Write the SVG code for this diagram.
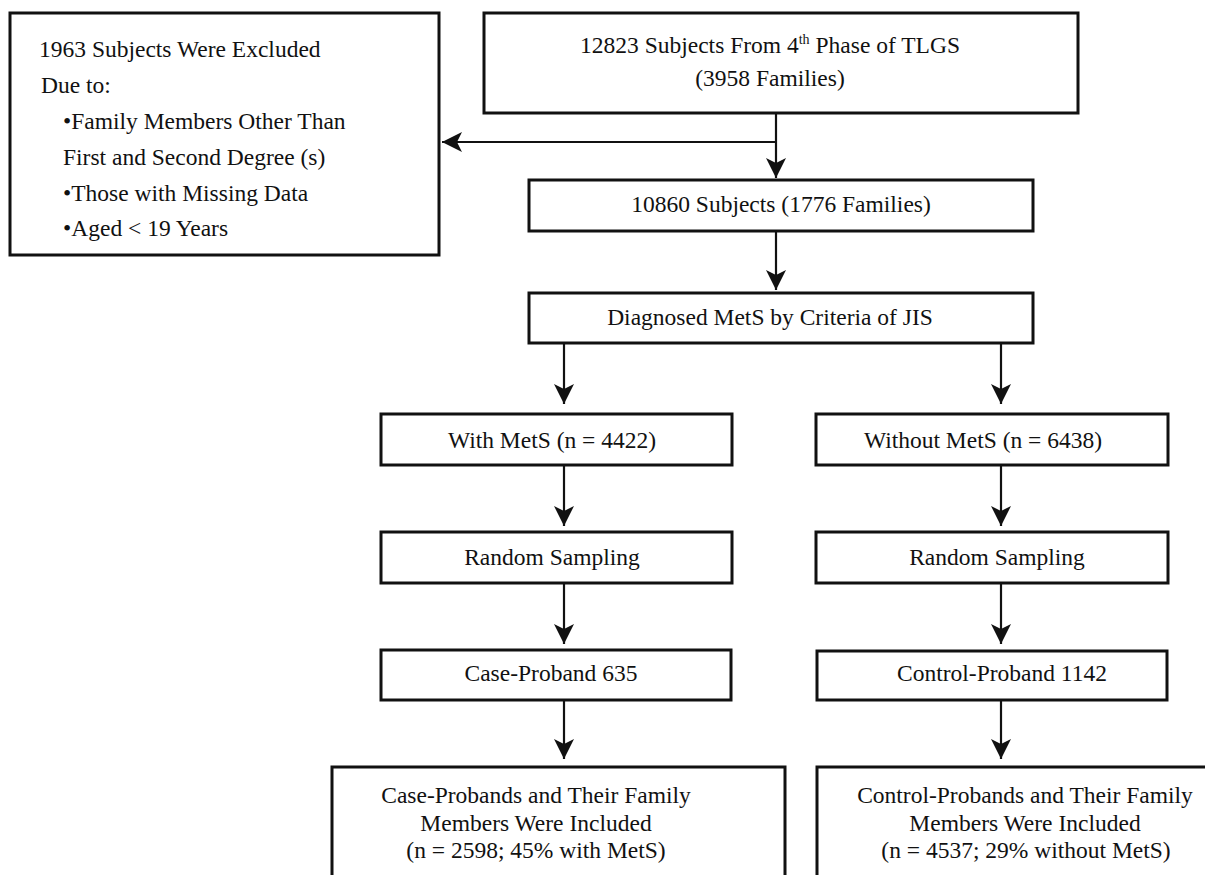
<svg xmlns="http://www.w3.org/2000/svg" width="1205" height="875" viewBox="0 0 1205 875">
<style>
.box{fill:#fff;stroke:#111;stroke-width:3}
.t{font-family:"Liberation Serif","Times New Roman",serif;font-size:23.5px;fill:#111}
.m{text-anchor:middle}
.c{fill:none;stroke:#111;stroke-width:2.2}
</style>
<defs>
<marker id="ah" markerUnits="userSpaceOnUse" markerWidth="24" markerHeight="24" viewBox="-22 -12 24 24" refX="0" refY="0" orient="auto">
<path d="M0,0 L-20,-10 L-15,0 L-20,10 Z" fill="#111"/>
</marker>
</defs>
<g id="connectors">
<path class="c" d="M776,113 V178" marker-end="url(#ah)"/>
<path class="c" d="M776,142 H442" marker-end="url(#ah)"/>
<path class="c" d="M776,231 V290" marker-end="url(#ah)"/>
<path class="c" d="M564,343 V404" marker-end="url(#ah)"/>
<path class="c" d="M1001,343 V404" marker-end="url(#ah)"/>
<path class="c" d="M564,465 V526" marker-end="url(#ah)"/>
<path class="c" d="M1001,465 V526" marker-end="url(#ah)"/>
<path class="c" d="M564,583 V644" marker-end="url(#ah)"/>
<path class="c" d="M1001,583 V644" marker-end="url(#ah)"/>
<path class="c" d="M564,700 V759" marker-end="url(#ah)"/>
<path class="c" d="M1001,700 V759" marker-end="url(#ah)"/>
</g>
<g id="excluded">
<rect class="box" x="10" y="13" width="429" height="242"/>
<text class="t" x="39" y="57">1963 Subjects Were Excluded</text>
<text class="t" x="41" y="93">Due to:</text>
<text class="t" x="63" y="129">•Family Members Other Than</text>
<text class="t" x="63" y="165">First and Second Degree (s)</text>
<text class="t" x="63" y="201">•Those with Missing Data</text>
<text class="t" x="63" y="236">•Aged &lt; 19 Years</text>
</g>
<g id="start">
<rect class="box" x="484" y="13" width="594" height="100"/>
<text class="t m" x="770" y="53">12823 Subjects From 4<tspan font-size="14" dy="-9">th</tspan><tspan dy="9"> Phase of TLGS</tspan></text>
<text class="t m" x="770" y="86">(3958 Families)</text>
</g>
<g id="subjects">
<rect class="box" x="529" y="180" width="504" height="51"/>
<text class="t m" x="781" y="212">10860 Subjects (1776 Families)</text>
</g>
<g id="diagnosed">
<rect class="box" x="529" y="293" width="504" height="50"/>
<text class="t m" x="770" y="325">Diagnosed MetS by Criteria of JIS</text>
</g>
<g id="with-mets">
<rect class="box" x="381" y="414" width="351" height="51"/>
<text class="t m" x="552" y="448">With MetS (n = 4422)</text>
</g>
<g id="without-mets">
<rect class="box" x="816" y="414" width="352" height="51"/>
<text class="t m" x="983" y="448">Without MetS (n = 6438)</text>
</g>
<g id="random-left">
<rect class="box" x="381" y="532" width="351" height="51"/>
<text class="t m" x="552" y="565">Random Sampling</text>
</g>
<g id="random-right">
<rect class="box" x="816" y="532" width="352" height="51"/>
<text class="t m" x="997" y="565">Random Sampling</text>
</g>
<g id="case-proband">
<rect class="box" x="381" y="650" width="350" height="50"/>
<text class="t m" x="551" y="681">Case-Proband 635</text>
</g>
<g id="control-proband">
<rect class="box" x="817" y="651" width="350" height="49"/>
<text class="t m" x="1002" y="681">Control-Proband 1142</text>
</g>
<g id="case-included">
<rect class="box" x="332" y="767" width="453" height="120"/>
<text class="t m" x="536" y="803">Case-Probands and Their Family</text>
<text class="t m" x="536" y="831">Members Were Included</text>
<text class="t m" x="536" y="858">(n = 2598; 45% with MetS)</text>
</g>
<g id="control-included">
<rect class="box" x="817" y="767" width="420" height="120"/>
<text class="t m" x="1025" y="803">Control-Probands and Their Family</text>
<text class="t m" x="1025" y="831">Members Were Included</text>
<text class="t m" x="1026" y="858">(n = 4537; 29% without MetS)</text>
</g>
</svg>
